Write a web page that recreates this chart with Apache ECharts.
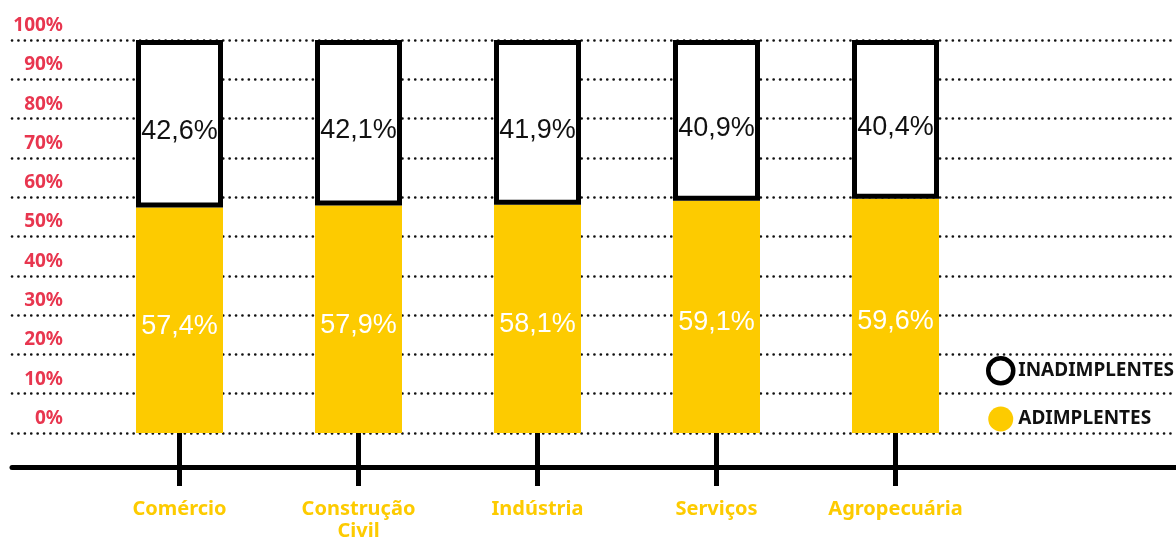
<!DOCTYPE html>
<html>
<head>
<meta charset="utf-8">
<script src="https://cdn.jsdelivr.net/npm/echarts@6/dist/echarts.min.js"></script>
<style>
  html, body { margin: 0; padding: 0; background: #fff; }
  #chart { width: 1176px; height: 538px; }
</style>
</head>
<body>
<div id="chart"></div>
<script>
// 各行业 adimplentes / inadimplentes 占比（%）
const categories = ['Comércio', 'Construção\nCivil', 'Indústria', 'Serviços', 'Agropecuária'];
const adimplentes = [57.4, 57.9, 58.1, 59.1, 59.6];
const inadimplentes = [42.6, 42.1, 41.9, 40.9, 40.4];
const seriesNames = ['INADIMPLENTES', 'ADIMPLENTES'];

const YELLOW = '#fdcb00';
const RED = '#e8364f';
const LABEL_FONT = '"Liberation Sans", "Roboto", sans-serif';
const TEXT_FONT = '"Noto Sans", "Open Sans", sans-serif';

// 百分比写法：逗号作小数点
function fmt(v) {
  return v.toFixed(1).replace('.', ',') + '%';
}

const chart = echarts.init(document.getElementById('chart'));

chart.setOption({
  animation: false,
  backgroundColor: '#fff',
  // grid 0 = 柱子；grid 1 = 通栏的点线和底部粗线
  // outerBoundsMode: 'none' — 不让 v6 为了标签去压缩网格
  grid: [
    { left: 90, right: 191, top: 40, bottom: 105, outerBoundsMode: 'none' },
    { left: 12, right: 0, top: 40, bottom: 105, outerBoundsMode: 'none' }
  ],
  legend: {
    orient: 'vertical',
    left: 981,
    top: 351,
    itemWidth: 25,
    itemHeight: 25,
    itemGap: 21,
    selectedMode: false,
    textStyle: { fontFamily: TEXT_FONT, fontWeight: 'bold', fontSize: 19, color: '#111' },
    data: [
      { name: seriesNames[0], icon: 'circle', itemStyle: { color: '#fff', borderColor: '#000', borderWidth: 4.5 } },
      { name: seriesNames[1], icon: 'circle', itemStyle: { color: YELLOW, borderWidth: 0 } }
    ]
  },
  xAxis: [
    {
      type: 'category',
      gridIndex: 0,
      data: categories,
      axisLine: { show: false },
      axisTick: { show: true, alignWithLabel: true, length: 53, lineStyle: { color: '#000', width: 5 } },
      axisLabel: {
        margin: 65,
        color: YELLOW,
        fontFamily: TEXT_FONT,
        fontWeight: 'bold',
        fontSize: 20,
        lineHeight: 22,
        interval: 0
      },
      z: 1
    },
    {
      type: 'value',
      gridIndex: 1,
      min: 0,
      max: 1,
      offset: 34,
      axisLine: { show: true, onZero: false, lineStyle: { color: '#000', width: 5 } },
      axisTick: { show: false },
      axisLabel: { show: false },
      splitLine: { show: false }
    }
  ],
  yAxis: [
    {
      type: 'value',
      gridIndex: 0,
      min: 0,
      max: 100,
      interval: 10,
      axisLine: { show: false },
      axisTick: { show: false },
      splitLine: { show: false },
      axisLabel: {
        margin: 27,
        color: RED,
        fontFamily: TEXT_FONT,
        fontWeight: 'bold',
        fontSize: 19,
        verticalAlign: 'bottom',
        padding: [0, 0, 5, 0],
        formatter: function (v) { return v + '%'; }
      }
    },
    {
      type: 'value',
      gridIndex: 1,
      min: 0,
      max: 100,
      interval: 10,
      axisLine: { show: false },
      axisTick: { show: false },
      axisLabel: { show: false },
      splitLine: { show: true, lineStyle: { color: '#111', width: 2.6, cap: 'round', type: [0.1, 6.3] } }
    }
  ],
  series: [
    {
      name: seriesNames[1],
      type: 'bar',
      stack: 'total',
      xAxisIndex: 0,
      yAxisIndex: 0,
      barWidth: 87,
      data: adimplentes,
      itemStyle: { color: YELLOW },
      label: {
        show: true,
        position: 'inside',
        offset: [0, 6],
        color: '#fff',
        fontFamily: LABEL_FONT,
        fontSize: 27,
        formatter: function (p) { return fmt(p.value); }
      },
      z: 3
    },
    {
      name: seriesNames[0],
      type: 'bar',
      stack: 'total',
      xAxisIndex: 0,
      yAxisIndex: 0,
      barWidth: 87,
      data: inadimplentes,
      itemStyle: { color: '#fff', borderColor: '#000', borderWidth: 5 },
      label: {
        show: true,
        position: 'inside',
        offset: [0, 8],
        color: '#111',
        fontFamily: LABEL_FONT,
        fontSize: 27,
        formatter: function (p) { return fmt(p.value); }
      },
      z: 4
    }
  ]
});
</script>
</body>
</html>
